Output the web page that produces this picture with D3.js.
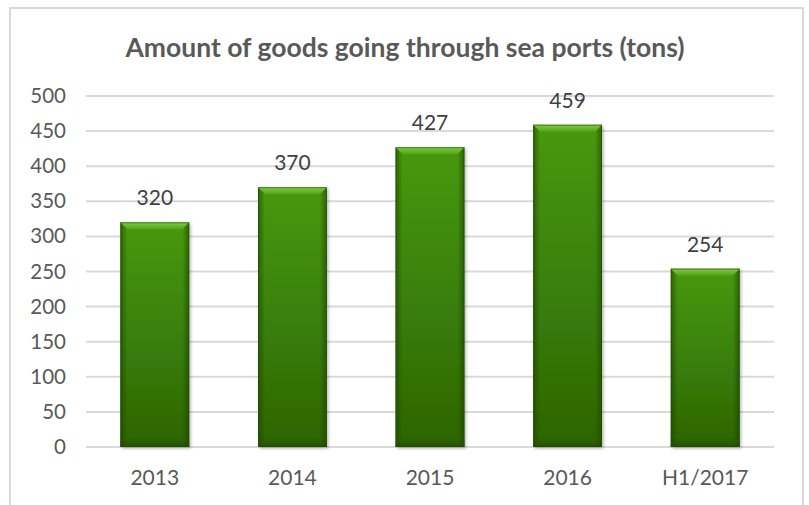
<!DOCTYPE html>
<html>
<head>
<meta charset="utf-8">
<script src="https://cdn.jsdelivr.net/npm/d3@7/dist/d3.min.js"></script>
<style>
html,body{margin:0;padding:0;background:#fff;}
svg{display:block;}
</style>
</head>
<body>
<svg id="chart" width="809" height="505"></svg>
<script>
const title = "Amount of goods going through sea ports (tons)";
const categories = ["2013", "2014", "2015", "2016", "H1/2017"];
const values = [320, 370, 427, 459, 254];
const yTicks = [0, 50, 100, 150, 200, 250, 300, 350, 400, 450, 500];

const W = 809, H = 505;
const svg = d3.select("#chart");
const font = "Lato, 'Open Sans', sans-serif";
const textColor = "#595959";

const defs = svg.append("defs");
const gv = defs.append("linearGradient").attr("id","gv").attr("x1",0).attr("y1",0).attr("x2",0).attr("y2",1);
gv.append("stop").attr("offset","0%").attr("stop-color","#489810");
gv.append("stop").attr("offset","50%").attr("stop-color","#3a8008");
gv.append("stop").attr("offset","100%").attr("stop-color","#2d6404");
const gh = defs.append("linearGradient").attr("id","gh").attr("x1",0).attr("y1",0).attr("x2",1).attr("y2",0);
gh.append("stop").attr("offset","0%").attr("stop-color","#1a4002").attr("stop-opacity",0.6);
gh.append("stop").attr("offset","10%").attr("stop-color","#1a4002").attr("stop-opacity",0.0);
gh.append("stop").attr("offset","90%").attr("stop-color","#1a4002").attr("stop-opacity",0.0);
gh.append("stop").attr("offset","100%").attr("stop-color","#1a4002").attr("stop-opacity",0.6);
const gt = defs.append("linearGradient").attr("id","gt").attr("x1",0).attr("y1",0).attr("x2",0).attr("y2",1);
gt.append("stop").attr("offset","0%").attr("stop-color","#80cf40");
gt.append("stop").attr("offset","100%").attr("stop-color","#52a219");
const gb = defs.append("linearGradient").attr("id","gb").attr("x1",0).attr("y1",0).attr("x2",0).attr("y2",1);
gb.append("stop").attr("offset","0%").attr("stop-color","#2f6405").attr("stop-opacity",0);
gb.append("stop").attr("offset","100%").attr("stop-color","#1f4602").attr("stop-opacity",0.7);
const flt = defs.append("filter").attr("id","shadow").attr("x","-20%").attr("y","-20%").attr("width","140%").attr("height","140%");
flt.append("feDropShadow").attr("dx",1.5).attr("dy",1.5).attr("stdDeviation",1.5).attr("flood-color","#000").attr("flood-opacity",0.3);

// chart border
svg.append("rect").attr("x",10).attr("y",8).attr("width",793).attr("height",530)
  .attr("fill","#fff").attr("stroke","#d9d9d9").attr("stroke-width",2);

const plot = {left:86, right:774, top:96, bottom:447};
const y = d3.scaleLinear().domain([0,500]).range([plot.bottom, plot.top]);
const x = d3.scaleBand().domain(categories).range([plot.left, plot.right]).paddingInner(0.5).paddingOuter(0.25);

// title
svg.append("text").attr("x",405).attr("y",57)
  .attr("text-anchor","middle").attr("font-family",font).attr("font-weight","bold")
  .attr("font-size",26.5).attr("fill",textColor).text(title);

// gridlines
svg.append("g").selectAll("line").data(yTicks).join("line")
  .attr("x1",plot.left).attr("x2",plot.right)
  .attr("y1",d=>y(d)).attr("y2",d=>y(d))
  .attr("stroke","#d9d9d9").attr("stroke-width",2);

// y axis labels
const yAxis = d3.axisLeft(y).tickValues(yTicks).tickSize(0).tickPadding(0);
const yg = svg.append("g").attr("transform",`translate(66,0)`).call(yAxis);
yg.select(".domain").remove();
yg.selectAll("text").attr("font-family",font).attr("font-size",20.5).attr("fill",textColor);

// x axis labels
const xAxis = d3.axisBottom(x).tickSize(0).tickPadding(0);
const xg = svg.append("g").attr("transform",`translate(0,${plot.bottom+23})`).call(xAxis);
xg.select(".domain").remove();
xg.selectAll("text").attr("font-family",font).attr("font-size",21).attr("fill",textColor);

// bars
const bevel = 7;
const bars = svg.append("g").selectAll("g").data(values).join("g")
  .attr("transform",(d,i)=>`translate(${x(categories[i])},0)`);
bars.append("rect").attr("x",0).attr("y",d=>y(d)).attr("width",x.bandwidth()).attr("height",d=>y(0)-y(d))
  .attr("fill","url(#gv)").attr("filter","url(#shadow)");
bars.append("rect").attr("x",0).attr("y",d=>y(d)).attr("width",x.bandwidth()).attr("height",d=>y(0)-y(d))
  .attr("fill","url(#gh)");
bars.append("rect").attr("x",0).attr("y",d=>y(0)-12).attr("width",x.bandwidth()).attr("height",12)
  .attr("fill","url(#gb)");
bars.append("path")
  .attr("d",d=>{const w=x.bandwidth(), t=y(d);
    return `M0,${t} L${w},${t} L${w-bevel},${t+bevel} L${bevel},${t+bevel} Z`;})
  .attr("fill","url(#gt)");
bars.append("rect").attr("x",0.5).attr("y",d=>y(d)+0.5).attr("width",x.bandwidth()-1).attr("height",d=>y(0)-y(d)-1)
  .attr("fill","none").attr("stroke","#224d03").attr("stroke-width",1).attr("stroke-opacity",0.6);

// data labels
svg.append("g").selectAll("text").data(values).join("text")
  .attr("x",(d,i)=>x(categories[i])+x.bandwidth()/2)
  .attr("y",d=>y(d)-17)
  .attr("text-anchor","middle").attr("font-family",font).attr("font-size",21)
  .attr("fill","#404040").text(d=>d);
</script>
</body>
</html>
